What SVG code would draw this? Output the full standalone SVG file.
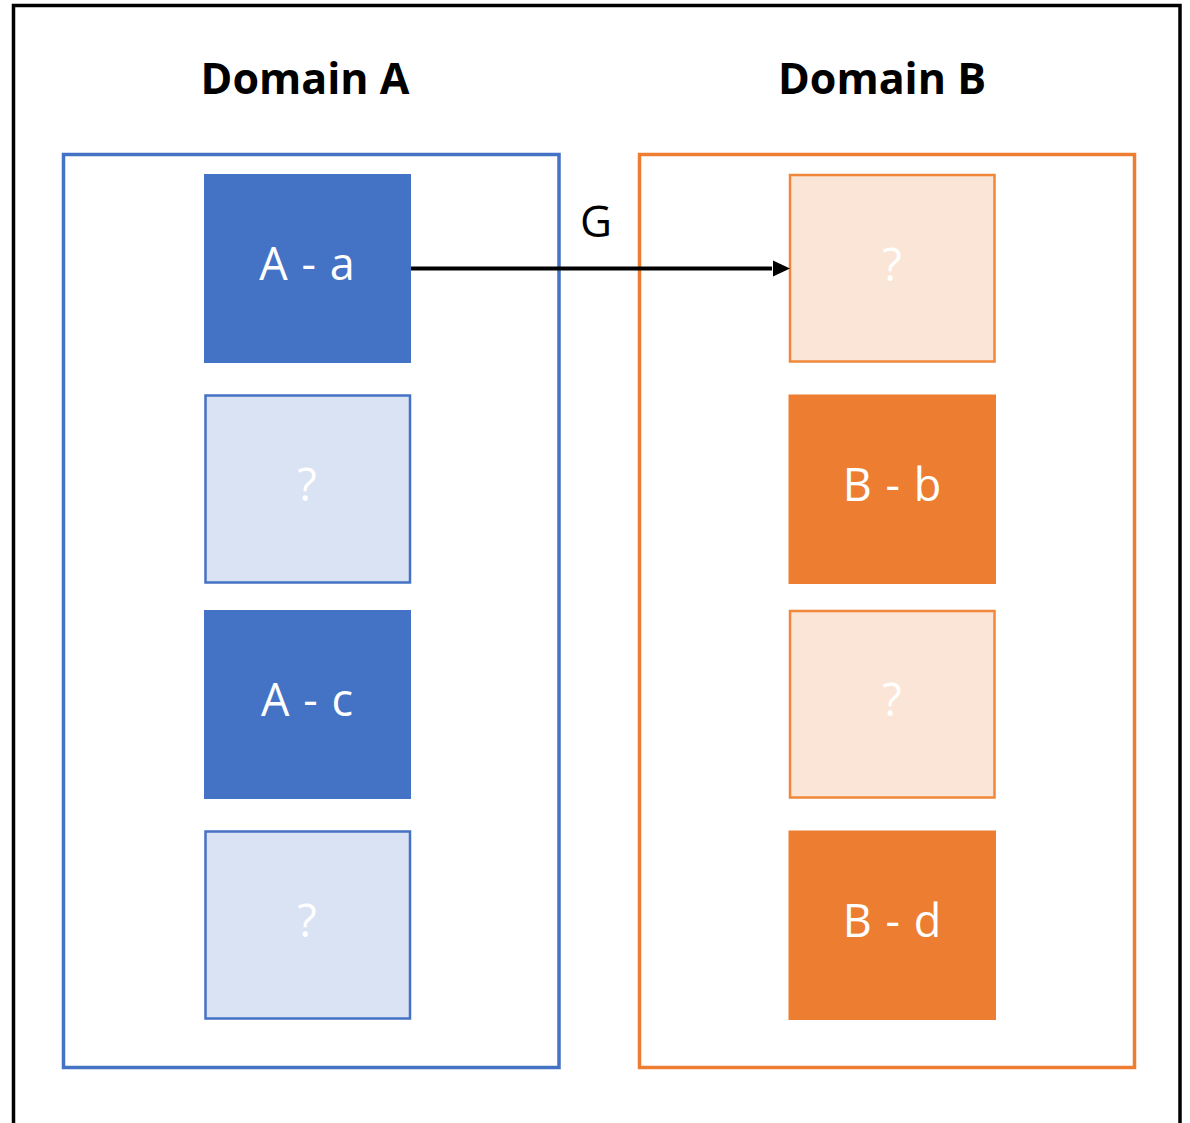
<svg xmlns="http://www.w3.org/2000/svg" width="1190" height="1123" viewBox="0 0 1190 1123">
  <style>
    .title { font-family: "Open Sans", "Noto Sans", sans-serif; font-weight: 700; font-size: 43px; fill: #000; text-anchor: middle; }
    .lbl { font-family: "Open Sans", "Noto Sans", sans-serif; font-size: 45px; fill: #fff; text-anchor: middle; word-spacing: 2px; }
    .edge-lbl { font-family: "Open Sans", "Noto Sans", sans-serif; font-size: 44px; fill: #000; text-anchor: middle; }
    .blue { fill: #4472C4; }
    .blue-lt { fill: #DAE3F3; stroke: #4472C4; stroke-width: 2.5; }
    .orange { fill: #ED7D31; }
    .orange-lt { fill: #FBE5D6; stroke: #F0873A; stroke-width: 2.5; }
    .domain { fill: none; stroke-width: 3.5; }
  </style>

  <rect width="1190" height="1123" fill="#fff"/>

  <!-- outer frame, open at the bottom -->
  <rect x="13.5" y="5.5" width="1166.5" height="1140" fill="none" stroke="#000" stroke-width="3.5"/>

  <!-- domain titles -->
  <text class="title" x="305" y="94">Domain A</text>
  <text class="title" x="882" y="94">Domain B</text>

  <!-- domain containers -->
  <rect class="domain" x="63.5" y="154.5" width="495.5" height="913" stroke="#4472C4"/>
  <rect class="domain" x="639.5" y="154.5" width="495" height="913" stroke="#ED7D31"/>

  <!-- Domain A nodes -->
  <g id="node-Aa">
    <rect class="blue" x="204" y="174" width="207" height="189"/>
    <text class="lbl" x="307" y="280">A - a</text>
  </g>
  <g id="node-A2">
    <rect class="blue-lt" x="205.5" y="395.5" width="204.5" height="187"/>
    <text class="lbl" x="307" y="500.5">?</text>
  </g>
  <g id="node-Ac">
    <rect class="blue" x="204" y="610" width="207" height="189"/>
    <text class="lbl" x="307" y="716">A - c</text>
  </g>
  <g id="node-A4">
    <rect class="blue-lt" x="205.5" y="831.5" width="204.5" height="187"/>
    <text class="lbl" x="307" y="936.5">?</text>
  </g>

  <!-- Domain B nodes -->
  <g id="node-B1">
    <rect class="orange-lt" x="790" y="175" width="204.5" height="186.5"/>
    <text class="lbl" x="892" y="280.5">?</text>
  </g>
  <g id="node-Bb">
    <rect class="orange" x="788.5" y="394.5" width="207.5" height="189.5"/>
    <text class="lbl" x="892" y="500.5">B - b</text>
  </g>
  <g id="node-B3">
    <rect class="orange-lt" x="790" y="611" width="204.5" height="186.5"/>
    <text class="lbl" x="892" y="716">?</text>
  </g>
  <g id="node-Bd">
    <rect class="orange" x="788.5" y="830.5" width="207.5" height="189.5"/>
    <text class="lbl" x="892" y="936.5">B - d</text>
  </g>

  <!-- connectors -->
  <g id="connectors">
    <line x1="411" y1="268.5" x2="772" y2="268.5" stroke="#000" stroke-width="4"/>
    <path d="M773,260.5 L790,268.5 L773,276.5 Z" fill="#000"/>
    <text class="edge-lbl" x="596" y="237">G</text>
  </g>
</svg>
